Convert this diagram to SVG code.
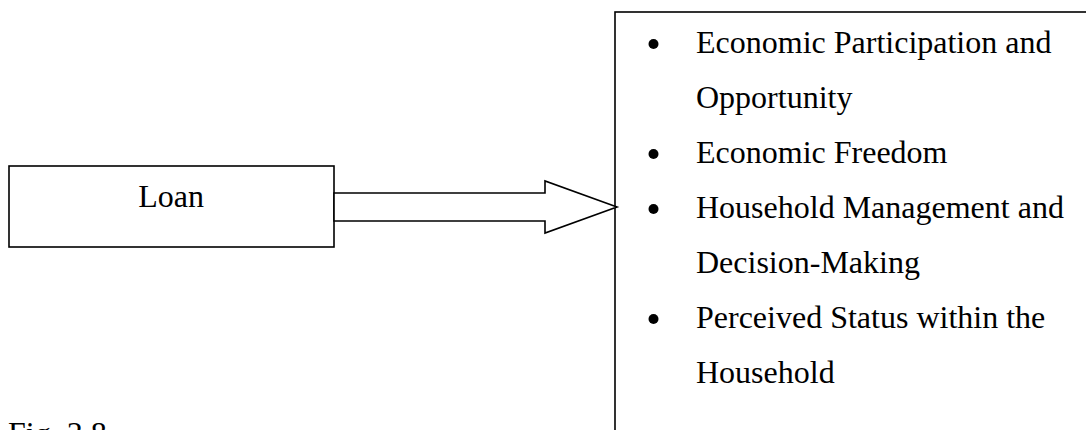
<svg xmlns="http://www.w3.org/2000/svg" width="1086" height="430" viewBox="0 0 1086 430">
  <style>
    .box { fill: #fff; stroke: #000; stroke-width: 1.6; }
    .t { font-family: "Liberation Serif", "Times New Roman", serif; font-size: 32px; fill: #000; }
    .bullet { fill: #000; }
  </style>
  <rect width="1086" height="430" fill="#fff"/>
  <g id="loan">
    <rect class="box" x="9" y="166" width="325" height="81"/>
    <text class="t" x="171" y="207" text-anchor="middle">Loan</text>
  </g>
  <g id="outcomes">
    <rect class="box" x="615" y="12" width="500" height="450"/>
    <circle class="bullet" cx="653.5" cy="44" r="5"/>
    <text class="t" x="696" y="52.5">Economic Participation and</text>
    <text class="t" x="696" y="107.5">Opportunity</text>
    <circle class="bullet" cx="653.5" cy="154" r="5"/>
    <text class="t" x="696" y="162.5">Economic Freedom</text>
    <circle class="bullet" cx="653.5" cy="209" r="5"/>
    <text class="t" x="696" y="217.5">Household Management and</text>
    <text class="t" x="696" y="272.5">Decision-Making</text>
    <circle class="bullet" cx="653.5" cy="319" r="5"/>
    <text class="t" x="696" y="327.5">Perceived Status within the</text>
    <text class="t" x="696" y="382.5">Household</text>
  </g>
  <g id="connectors">
    <polygon class="box" points="334,193 545,193 545,181 617,207 545,233 545,221 334,221"/>
  </g>
  <g id="caption">
    <text class="t" x="8" y="444">Fig. 3.8</text>
  </g>
</svg>
